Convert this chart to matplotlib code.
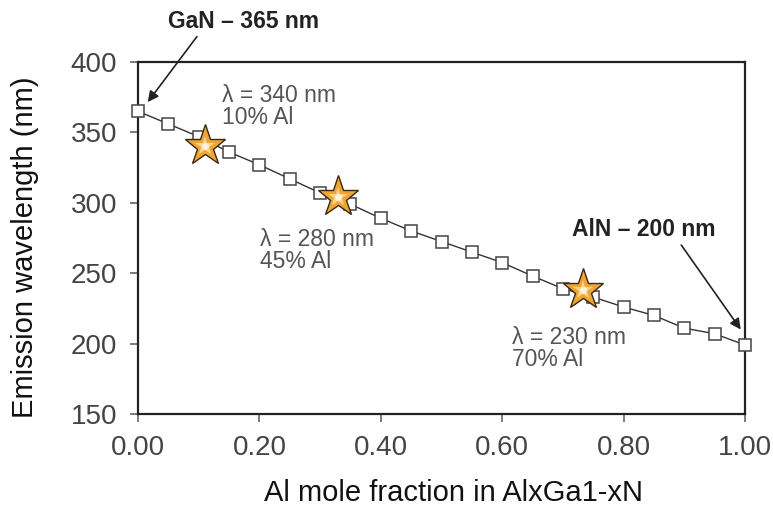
import matplotlib
matplotlib.use("Agg")
import matplotlib.pyplot as plt
import numpy as np

plt.rcParams['font.family'] = ['Liberation Sans', 'DejaVu Sans']

al_fraction = [0.00, 0.05, 0.10, 0.15, 0.20, 0.25, 0.30, 0.35, 0.40, 0.45, 0.50,
               0.55, 0.60, 0.65, 0.70, 0.75, 0.80, 0.85, 0.90, 0.95, 1.00]
wavelength = [365, 356, 347, 336, 327, 317, 307, 299, 289, 280, 272.5,
              265, 257.5, 248, 239, 233, 226, 220, 211, 207, 199]
star_x = [0.11, 0.33, 0.733]
star_y = [340, 304, 238]
star_labels = ["λ = 340 nm\n10% Al", "λ = 280 nm\n45% Al", "λ = 230 nm\n70% Al"]
x_ticks = [0.0, 0.2, 0.4, 0.6, 0.8, 1.0]
x_ticklabels = ["0.00", "0.20", "0.40", "0.60", "0.80", "1.00"]
y_ticks = [150, 200, 250, 300, 350, 400]

fig = plt.figure(figsize=(7.73, 5.09), dpi=100)
ax = fig.add_axes([138/773, 1-414/509, (745-138)/773, (414-62)/509])

ax.plot(al_fraction, wavelength, color='#333333', lw=1.0, marker='s', markersize=8.5,
        markerfacecolor='white', markeredgecolor='#444444', markeredgewidth=1.1,
        clip_on=False, zorder=3)
ax.plot(star_x, star_y, linestyle='none', marker='*', markersize=31,
        markerfacecolor='#EFA534', markeredgecolor='#3a2a10', markeredgewidth=1.0, zorder=4)
ax.plot(star_x, star_y, linestyle='none', marker='*', markersize=15,
        markerfacecolor='#F8D58C', markeredgewidth=0, zorder=5)
ax.plot(star_x, star_y, linestyle='none', marker='o', markersize=5,
        markerfacecolor='#FDF3DC', markeredgewidth=0, zorder=6)

ax.set_xlim(0, 1)
ax.set_ylim(150, 400)
ax.set_xticks(x_ticks)
ax.set_xticklabels(x_ticklabels)
ax.set_yticks(y_ticks)
for s in ax.spines.values():
    s.set_linewidth(1.6)
    s.set_color('#222222')
ax.tick_params(axis='both', direction='out', length=6, width=1.2, color='#666666',
               labelsize=20, labelcolor='#444444', pad=9)

ax.set_xlabel("Al mole fraction in AlxGa1-xN", fontsize=21, color='#111111')
ax.xaxis.set_label_coords(0.519, -0.186)
ax.set_ylabel("Emission wavelength (nm)", fontsize=21, color='#111111')
ax.yaxis.set_label_coords(-0.163, 0.474)

pos_labels = [(0.138, 368.7), (0.201, 266), (0.616, 196.7)]
for (lx, ly), t in zip(pos_labels, star_labels):
    ax.text(lx, ly, t, fontsize=16.5, color='#555555', ha='left', va='center', linespacing=0.95)

arrow = dict(arrowstyle='-|>', color='#222222', lw=1.2, mutation_scale=16, shrinkA=0, shrinkB=0)
ax.text(0.173, 429, "GaN – 365 nm", fontsize=16.5, fontweight='bold', color='#222222',
        ha='center', va='center', clip_on=False)
ax.annotate("", xy=(0.016, 371.5), xytext=(0.097, 418), arrowprops=arrow, annotation_clip=False)
ax.text(0.834, 281, "AlN – 200 nm", fontsize=16.5, fontweight='bold', color='#222222',
        ha='center', va='center')
ax.annotate("", xy=(0.993, 210), xytext=(0.895, 270), arrowprops=arrow, annotation_clip=False)

fig.savefig("out.png", dpi=100)
